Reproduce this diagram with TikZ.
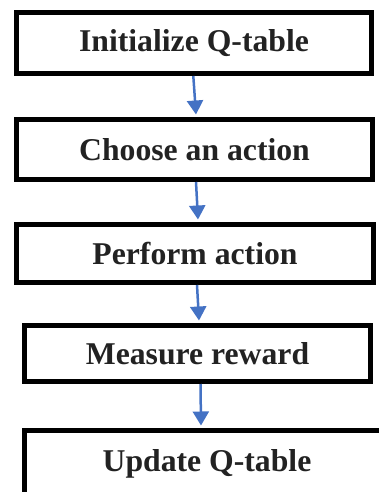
\documentclass[tikz,border=0pt]{standalone}
\usepackage{fontspec}
\setmainfont{Liberation Serif}
\usetikzlibrary{arrows.meta, positioning}
\definecolor{FlowBlue}{RGB}{68, 114, 196}
\definecolor{InkGray}{RGB}{34, 34, 34}

\begin{document}
\begin{tikzpicture}[
    x=1pt, y=-1pt,
    stagebox/.style={rectangle, draw=black, line width=5pt, fill=white, inner sep=0pt, align=center, font=\fontsize{31.7}{36}\selectfont\bfseries, text=InkGray},
    flow/.style={-{Triangle[length=14pt, width=16pt]}, line width=2.5pt, draw=FlowBlue}
]
    \useasboundingbox (0,0) rectangle (379,492);
    \clip (0,0) rectangle (379,492);

    % Etapas del algoritmo
    \node[stagebox, minimum width=355pt, minimum height=61pt] (init) at (194,43) {Initialize Q-table};
    \node[stagebox, minimum width=356pt, minimum height=60pt] (choose) at (194.5,149.5) {Choose an action};
    \node[stagebox, minimum width=357pt, minimum height=58pt] (perform) at (195,253.5) {Perform action};
    \node[stagebox, minimum width=346pt, minimum height=56pt] (measure) at (197.5,353.5) {Measure reward};
    \node[stagebox, minimum width=365pt, minimum height=66pt] (update) at (207,463.5) {Update Q-table};

    % Flechas
    \draw[flow] ([xshift=-0.7pt]init.south) -- ([xshift=1.5pt, yshift=2.5pt]choose.north);
    \draw[flow] ([xshift=1.5pt]choose.south) -- ([xshift=3pt, yshift=2.5pt]perform.north);
    \draw[flow] ([xshift=2pt]perform.south) -- ([xshift=1.5pt, yshift=2.5pt]measure.north);
    \draw[flow] ([xshift=3pt]measure.south) -- ([xshift=-6pt, yshift=2.5pt]update.north);
\end{tikzpicture}
\end{document}
